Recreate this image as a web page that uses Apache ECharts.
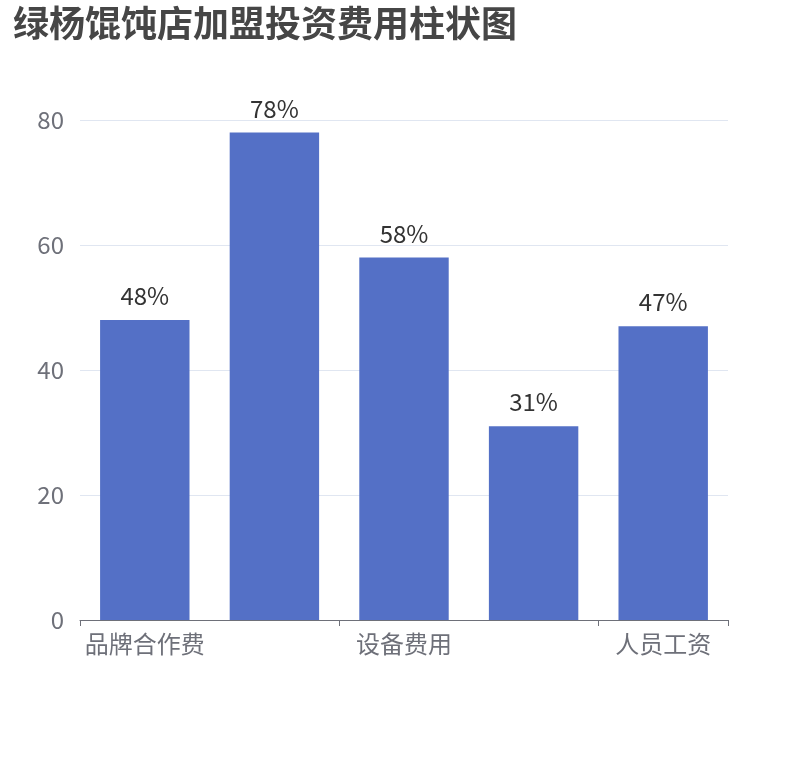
<!DOCTYPE html>
<html><head><meta charset="utf-8">
<script src="https://cdn.jsdelivr.net/npm/echarts@6/dist/echarts.min.js"></script>
<style>html,body{margin:0;padding:0;background:#fff}#c{width:810px;height:760px}</style>
</head><body><div id="c"></div>
<script>
const categories = ['品牌合作费', '店铺租金', '设备费用', '装修费用', '人员工资'];
const values = [48, 78, 58, 31, 47];
const yTicks = { min: 0, max: 80, interval: 20 };

const chart = echarts.init(document.getElementById('c'));
chart.setOption({
  animation: false,
  textStyle: { fontFamily: '"Noto Sans CJK SC", "Noto Sans", sans-serif' },
  title: {
    text: '绿杨馄饨店加盟投资费用柱状图',
    left: 8, top: 0,
    textStyle: { fontSize: 36, fontWeight: 'bold', color: '#464646', fontFamily: '"Noto Sans CJK SC", sans-serif' }
  },
  grid: { left: 80, right: 82, top: 120, bottom: 140, containLabel: false },
  xAxis: {
    type: 'category',
    data: categories,
    axisLabel: { fontSize: 24, color: '#6E7079', margin: 12, interval: 1 },
    axisLine: { show: true, lineStyle: { color: '#6E7079' } },
    axisTick: { show: true, length: 6, interval: 1, lineStyle: { color: '#6E7079' } }
  },
  yAxis: {
    type: 'value',
    min: yTicks.min, max: yTicks.max, interval: yTicks.interval,
    axisLabel: { fontSize: 24, color: '#6E7079', margin: 16 },
    splitLine: { lineStyle: { color: '#E0E6F1' } }
  },
  series: [{
    type: 'bar',
    data: values,
    barCategoryGap: '31%',
    itemStyle: { color: '#5470c6' },
    label: { show: true, position: 'top', fontSize: 24, color: '#333', distance: 12, formatter: '{c}%' }
  }]
});
</script></body></html>
